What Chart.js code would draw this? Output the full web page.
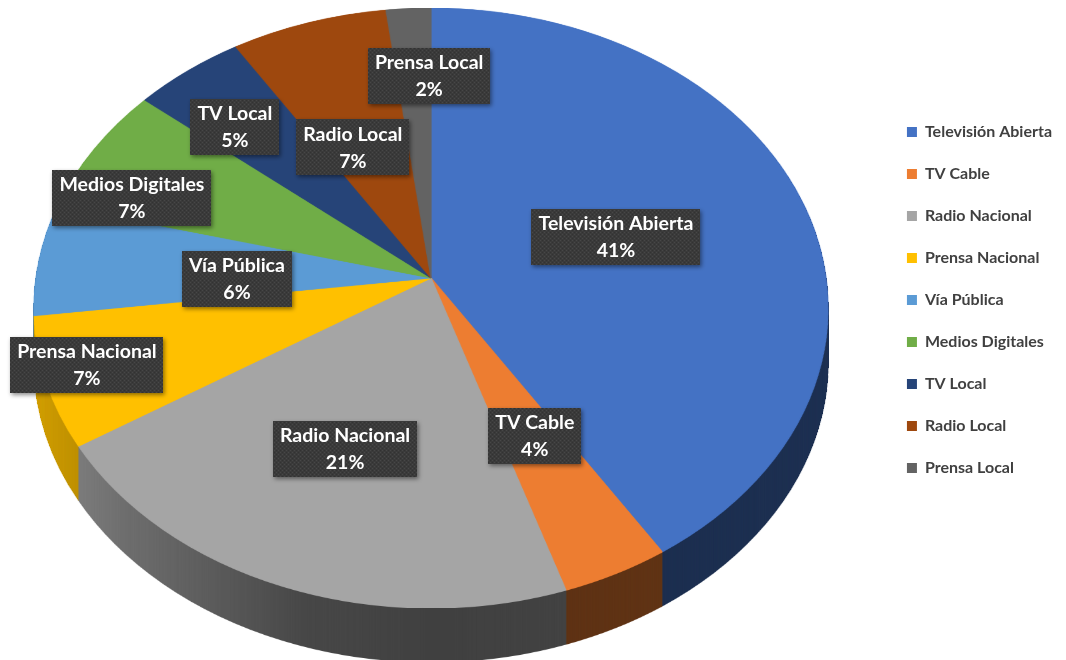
<!DOCTYPE html>
<html>
<head>
<meta charset="utf-8">
<script src="https://cdn.jsdelivr.net/npm/chart.js@4.4.1/dist/chart.umd.min.js"></script>
<style>
  html, body { margin: 0; padding: 0; background: #ffffff; overflow: hidden; }
  #wrap { position: relative; width: 1066px; height: 660px; }
</style>
</head>
<body>
<div id="wrap"><canvas id="c" width="1066" height="660"></canvas></div>
<script>
// Reparto de la inversión publicitaria por medio (%)
const categories = ['Televisión Abierta', 'TV Cable', 'Radio Nacional', 'Prensa Nacional', 'Vía Pública',
                    'Medios Digitales', 'TV Local', 'Radio Local', 'Prensa Local'];
const shares = [41, 4, 21, 7, 6, 7, 5, 7, 2];
const sliceColors = ['#4472C4', '#ED7D31', '#A5A5A5', '#FFC000', '#5B9BD5', '#70AD47', '#264478', '#9E480E', '#636363'];

// Where each data label sits: [turn from the slice middle in degrees, share of the radius]
const labelPlacement = [[-0.2, 0.495], [-1.1, 0.563], [0.9, 0.582], [1.2, 0.893], [-4.0, 0.491],
                        [-7.4, 0.826], [-2.9, 0.749], [-4.4, 0.505], [3.2, 0.730]];

// Perspective view of the disc: a point (s, t) of the unit circle (t pointing to the viewer)
// lands at X = CX + D*s/w, Y = (A*t + B)/w with w = 1 + C*t.
const CX = 431, D = 395, A = 269.2, B = 278, C = -0.1, DEPTH = 54;
const SS = 2; // supersampling of the flat disc
const FONT = 'Lato, "Open Sans", "DejaVu Sans", sans-serif';

const projY = t => (A * t + B) / (1 + C * t);
const tOfY = Y => (Y - B) / (A - C * Y);

function makeBoxPattern(ctx) {
  const p = document.createElement('canvas');
  p.width = 4; p.height = 4;
  const c = p.getContext('2d');
  c.fillStyle = '#3a3a3a';
  c.fillRect(0, 0, 4, 4);
  c.fillStyle = '#474747';
  c.fillRect(0, 0, 1, 1);
  c.fillRect(2, 2, 1, 1);
  c.fillStyle = '#323232';
  c.fillRect(2, 0, 1, 1);
  c.fillRect(0, 2, 1, 1);
  return ctx.createPattern(p, 'repeat');
}

// Paint the chart's own arc elements, flat, into an offscreen canvas
function paintFlat(arcs, W, H, fills) {
  const cv = document.createElement('canvas');
  cv.width = W * SS; cv.height = H * SS;
  const c = cv.getContext('2d');
  c.setTransform(SS, 0, 0, SS, 0, 0);
  arcs.forEach((arc, i) => {
    const saved = arc.options;
    arc.options = Object.assign({}, saved, { backgroundColor: fills[i], borderColor: fills[i], borderWidth: 0.8 });
    arc.draw(c);
    arc.options = saved;
  });
  return cv;
}

// Re-project the flat disc row by row onto the tilted view
function project(flat, x, y, R, W, H) {
  const out = document.createElement('canvas');
  out.width = W; out.height = H;
  const o = out.getContext('2d');
  o.imageSmoothingEnabled = true;
  o.imageSmoothingQuality = 'high';
  const y0 = Math.floor(projY(-1)), y1 = Math.ceil(projY(1));
  for (let r = y0; r < y1; r++) {
    const ta = Math.max(-1, tOfY(r)), tb = Math.min(1, tOfY(r + 1));
    if (tb <= ta) continue;
    const tm = (ta + tb) / 2;
    const k = D / (R * (1 + C * tm));
    o.drawImage(flat, 0, (y + ta * R) * SS, W * SS, (tb - ta) * R * SS, CX - x * k, r, W * k, 1);
  }
  return out;
}

// Opaque copy of a layer (soft rim pixels either kept solid or dropped)
function hardened(src) {
  const out = document.createElement('canvas');
  out.width = src.width; out.height = src.height;
  const o = out.getContext('2d');
  const img = src.getContext('2d').getImageData(0, 0, src.width, src.height);
  const d = img.data;
  for (let i = 3; i < d.length; i += 4) d[i] = d[i] >= 110 ? 255 : 0;
  o.putImageData(img, 0, 0);
  return out;
}

const pie3d = {
  id: 'pie3d',
  beforeDatasetsDraw(chart) {
    const ctx = chart.ctx;
    const arcs = chart.getDatasetMeta(0).data;
    if (!arcs.length) return false;
    const { x, y, outerRadius: R } = arcs[0].getProps(['x', 'y', 'outerRadius'], true);
    const W = chart.width, H = chart.height;

    const topView = project(paintFlat(arcs, W, H, sliceColors), x, y, R, W, H);
    const sideView = project(paintFlat(arcs, W, H, sliceColors), x, y, R, W, H);

    // the wall is shaded darker towards the front, lighter on the far left
    const s = sideView.getContext('2d');
    const g = s.createLinearGradient(34, 0, 828, 0);
    g.addColorStop(0, 'rgba(0,0,0,0.18)');
    g.addColorStop(0.12, 'rgba(0,0,0,0.34)');
    g.addColorStop(0.34, 'rgba(0,0,0,0.57)');
    g.addColorStop(0.5, 'rgba(0,0,0,0.61)');
    g.addColorStop(1, 'rgba(0,0,0,0.59)');
    s.globalCompositeOperation = 'source-atop';
    s.fillStyle = g;
    s.fillRect(0, 0, W, H);
    const sideSolid = hardened(sideView);

    ctx.drawImage(sideView, 0, DEPTH);
    for (let k = DEPTH - 1; k >= 1; k--) ctx.drawImage(sideSolid, 0, k);
    ctx.drawImage(topView, 0, 0);
    return false;
  },
  afterDraw(chart) {
    const ctx = chart.ctx;
    const arcs = chart.getDatasetMeta(0).data;
    const total = shares.reduce((a, b) => a + b, 0);
    const pattern = makeBoxPattern(ctx);
    arcs.forEach((arc, i) => {
      const { startAngle, endAngle } = arc.getProps(['startAngle', 'endAngle'], true);
      const [turn, frac] = labelPlacement[i];
      const a = (startAngle + endAngle) / 2 + turn * Math.PI / 180;
      const su = Math.cos(a) * frac, tu = Math.sin(a) * frac;
      const w = 1 + C * tu;
      const sx = CX + D * su / w;
      const sy = (A * tu + B) / w;
      const line1 = categories[i];
      const line2 = Math.round(shares[i] / total * 100) + '%';

      ctx.save();
      ctx.font = `bold 19.5px ${FONT}`;
      const bw = Math.round(Math.max(ctx.measureText(line1).width, ctx.measureText(line2).width) + 14);
      const bh = 56;
      ctx.shadowColor = 'rgba(0,0,0,0.45)';
      ctx.shadowBlur = 4;
      ctx.shadowOffsetX = 1.5;
      ctx.shadowOffsetY = 2;
      ctx.fillStyle = pattern;
      ctx.fillRect(Math.round(sx - bw / 2), Math.round(sy - bh / 2), bw, bh);
      ctx.restore();

      ctx.save();
      ctx.font = `bold 19.5px ${FONT}`;
      ctx.fillStyle = '#ffffff';
      ctx.textAlign = 'center';
      ctx.textBaseline = 'middle';
      ctx.fillText(line1, sx, sy - 13);
      ctx.fillText(line2, sx, sy + 14);
      ctx.restore();
    });
  }
};

function build() {
  new Chart(document.getElementById('c'), {
    type: 'pie',
    data: {
      labels: categories,
      datasets: [{
        data: shares,
        backgroundColor: sliceColors,
        borderWidth: 0
      }]
    },
    options: {
      responsive: false,
      animation: false,
      events: [],
      layout: { padding: { top: 98, right: 4 } },
      plugins: {
        tooltip: { enabled: false },
        legend: {
          position: 'right',
          align: 'start',
          labels: {
            boxWidth: 10,
            boxHeight: 10,
            padding: 26,
            color: '#404040',
            font: { family: FONT, size: 16, weight: 'bold' }
          }
        }
      }
    },
    plugins: [pie3d]
  });
}

Promise.all([
  document.fonts.load('bold 19.5px Lato'),
  document.fonts.load('bold 16px Lato')
]).then(build, build);
</script>
</body>
</html>
